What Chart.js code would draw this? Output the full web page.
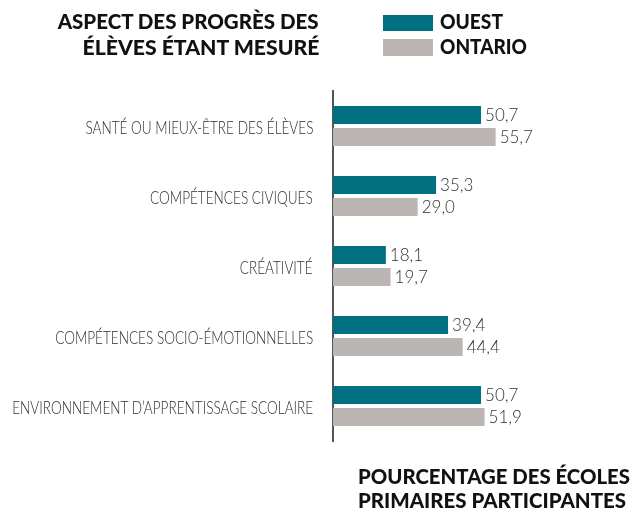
<!DOCTYPE html>
<html>
<head>
<meta charset="utf-8">
<script src="https://cdn.jsdelivr.net/npm/chart.js@4"></script>
<style>
  html, body { margin:0; padding:0; background:#fff; }
  #wrap { position:relative; width:633px; height:512px; overflow:hidden; }
  canvas { position:absolute; left:0; top:0; }
  .hd { position:absolute; font-family: Lato, Roboto, "Liberation Sans", sans-serif; font-weight:900; font-size:20px; line-height:20px; color:#111; white-space:nowrap; }
  .cat { position:absolute; font-family: Lato, Roboto, sans-serif; font-weight:300; font-size:18px; line-height:18px; color:#2e2e2e; white-space:nowrap; transform-origin:right center; }
  .sw { position:absolute; width:50px; }
</style>
</head>
<body>
<div id="wrap">
  <canvas id="c" width="633" height="512"></canvas>
</div>
<script>
const categories = [
  "SANTÉ OU MIEUX-ÊTRE DES ÉLÈVES",
  "COMPÉTENCES CIVIQUES",
  "CRÉATIVITÉ",
  "COMPÉTENCES SOCIO-ÉMOTIONNELLES",
  "ENVIRONNEMENT D’APPRENTISSAGE SCOLAIRE"
];
const seriesNames = ["OUEST", "ONTARIO"];
const ouest = [50.7, 35.3, 18.1, 39.4, 50.7];
const ontario = [55.7, 29.0, 19.7, 44.4, 51.9];
const seriesColors = ["#006F80", "#BBB6B3"];
const titleLines = ["ASPECT DES PROGRÈS DES", "ÉLÈVES ÉTANT MESURÉ"];
const axisTitleLines = ["POURCENTAGE DES ÉCOLES", "PRIMAIRES PARTICIPANTES"];

const wrap = document.getElementById('wrap');
function addText(txt, opts) {
  const d = document.createElement('div');
  d.className = 'hd';
  d.textContent = txt;
  wrap.appendChild(d);
  d.style.top = (opts.baseline - 17.7) + 'px';
  if (opts.right !== undefined) { d.style.right = (633 - opts.right) + 'px'; d.style.transformOrigin = 'right center'; }
  else { d.style.left = opts.left + 'px'; d.style.transformOrigin = 'left center'; }
  if (opts.width) {
    const w = d.getBoundingClientRect().width;
    d.style.transform = 'scaleX(' + (opts.width / w) + ')';
  }
  return d;
}
addText(titleLines[0], {right:319, baseline:29, width:261});
addText(titleLines[1], {right:319, baseline:55, width:237});
addText(seriesNames[0], {left:440, baseline:29, width:63});
addText(seriesNames[1], {left:440, baseline:54, width:87});
addText(axisTitleLines[0], {left:358, baseline:484, width:272});
addText(axisTitleLines[1], {left:358, baseline:508, width:268});
[[15,16],[39,17]].forEach((b,i)=>{
  const s = document.createElement('div');
  s.className = 'sw';
  s.style.left = '383px'; s.style.top = b[0]+'px'; s.style.height = b[1]+'px';
  s.style.background = seriesColors[i];
  wrap.appendChild(s);
});

const valueLabels = {
  id: 'valueLabels',
  afterDatasetsDraw(chart) {
    const ctx = chart.ctx;
    ctx.save();
    ctx.font = '300 17px Lato, "Open Sans", sans-serif';
    ctx.fillStyle = '#333';
    ctx.textAlign = 'left';
    ctx.textBaseline = 'middle';
    chart.data.datasets.forEach((ds, i) => {
      chart.getDatasetMeta(i).data.forEach((bar, j) => {
        ctx.fillText(ds.data[j].toFixed(1).replace('.', ','), bar.x + 4, bar.y + 1);
      });
    });
    ctx.restore();
  }
};

const chart = new Chart(document.getElementById('c'), {
  type: 'bar',
  data: {
    labels: categories,
    datasets: [
      { label: seriesNames[0], data: ouest, backgroundColor: seriesColors[0], categoryPercentage: 44/70, barPercentage: 18/22 },
      { label: seriesNames[1], data: ontario, backgroundColor: seriesColors[1], categoryPercentage: 44/70, barPercentage: 18/22 }
    ]
  },
  options: {
    indexAxis: 'y',
    responsive: false,
    animation: false,
    layout: { padding: { top: 91, bottom: 71, left: 0, right: 8 } },
    plugins: { legend: { display: false }, tooltip: { enabled: false }, title: { display: false } },
    scales: {
      x: { min: 0, max: 100, display: false },
      y: {
        afterFit(scale) { scale.width = 333; },
        grid: { display: true, drawOnChartArea: false, drawTicks: false, color: 'rgba(0,0,0,0)' },
        border: { display: true, color: '#555', width: 2 },
        ticks: { display: false }
      }
    }
  },
  plugins: [valueLabels]
});

// Category labels as real text, placed with the chart's own y scale
const yScale = chart.scales.y;
const catEls = categories.map((c, i) => {
  const d = document.createElement('div');
  d.className = 'cat';
  d.textContent = c;
  wrap.appendChild(d);
  d.style.right = (633 - 313) + 'px';
  d.style.top = (yScale.getPixelForValue(i) + 1.5 - 9.5) + 'px';
  return d;
});
const longest = Math.max(...catEls.map(d => d.getBoundingClientRect().width));
const sx = 301 / longest;
catEls.forEach(d => { d.style.transform = 'scaleX(' + sx + ')'; });
</script>
</body>
</html>
